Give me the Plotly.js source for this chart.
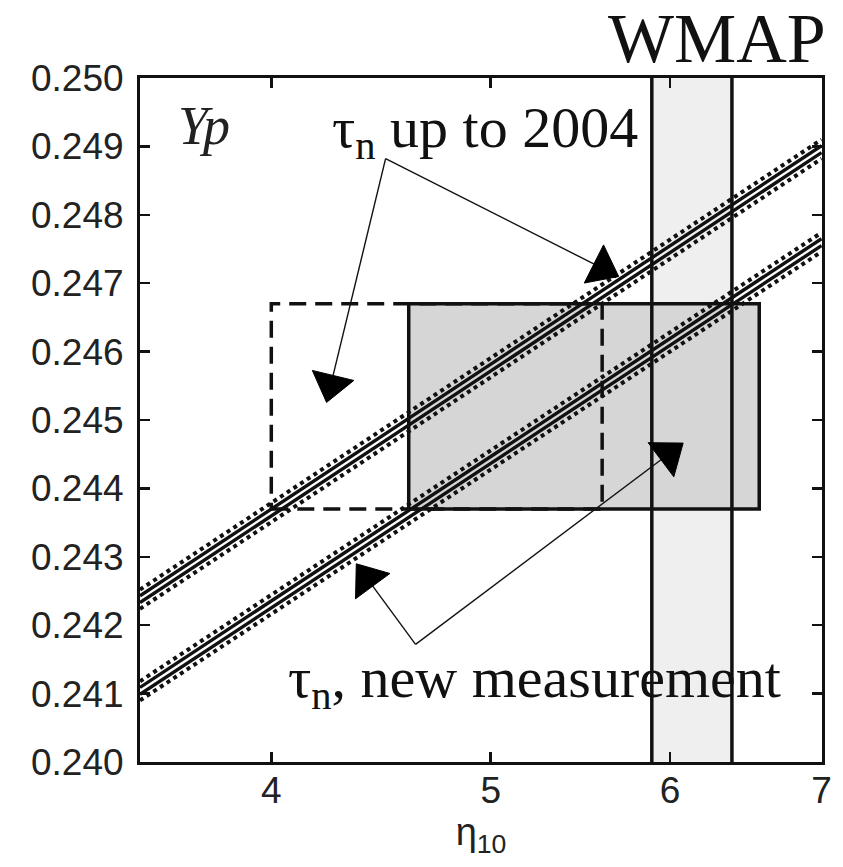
<!DOCTYPE html>
<html>
<head>
<meta charset="utf-8">
<script src="https://cdn.plot.ly/plotly-3.0.1.min.js"></script>
<style>
html,body{margin:0;padding:0;background:#fff;}
#chart{width:843px;height:867px;}
</style>
</head>
<body>
<div id="chart"></div>
<script>
// ---- data ----
const etaEnds = [3.5, 7];                       // x extent of the Yp(eta) lines
// tau_n up to 2004 band (upper)
const upperDotHi   = [0.24252, 0.24910];
const upperSolidHi = [0.24243, 0.24901];
const upperSolidLo = [0.24233, 0.24891];
const upperDotLo   = [0.24224, 0.24882];
// tau_n new measurement band (lower)
const lowerDotHi   = [0.24118, 0.24774];
const lowerSolidHi = [0.24109, 0.24765];
const lowerSolidLo = [0.24099, 0.24755];
const lowerDotLo   = [0.24090, 0.24746];
// WMAP eta10 band
const wmapEta = [5.89, 6.39];
const ypFull  = [0.240, 0.250];
// observed Yp boxes
const boxYp     = [0.2437, 0.2467];
const oldBoxEta = [4.0, 5.6];
const newBoxEta = [4.6, 6.57];
// annotation arrows: [vertex, head]
const arrowEta = [[4.493, 5.60], [4.493, 4.25], [4.632, 4.41], [4.632, 5.99]];
const arrowYp  = [[0.24882, 0.24722], [0.24882, 0.24552], [0.24172, 0.24268], [0.24172, 0.24450]];
// tick labels
const xTicks = [4, 5, 6, 7];
const xTickText = ['4', '5', '6', '7'];

const traces = [];
// WMAP band fill
traces.push({x:[wmapEta[0], wmapEta[1], wmapEta[1], wmapEta[0]], y:[ypFull[0], ypFull[0], ypFull[1], ypFull[1]],
  mode:'lines', fill:'toself', fillcolor:'#efefef', line:{width:0}, hoverinfo:'skip'});
// new box fill
traces.push({x:[newBoxEta[0], newBoxEta[1], newBoxEta[1], newBoxEta[0], newBoxEta[0]], y:[boxYp[0], boxYp[0], boxYp[1], boxYp[1], boxYp[0]],
  mode:'lines', fill:'toself', fillcolor:'#d6d6d6', line:{width:0}, hoverinfo:'skip'});
// old (dashed) box
traces.push({x:[oldBoxEta[0], oldBoxEta[1], oldBoxEta[1], oldBoxEta[0], oldBoxEta[0]], y:[boxYp[0], boxYp[0], boxYp[1], boxYp[1], boxYp[0]],
  mode:'lines', line:{color:'#111', width:3.5, dash:'17px,9px'}, hoverinfo:'skip'});
// new box outline
traces.push({x:[newBoxEta[0], newBoxEta[1], newBoxEta[1], newBoxEta[0], newBoxEta[0]], y:[boxYp[0], boxYp[0], boxYp[1], boxYp[1], boxYp[0]],
  mode:'lines', line:{color:'#111', width:3.5}, hoverinfo:'skip'});
// WMAP lines
wmapEta.forEach(function(e){
  traces.push({x:[e, e], y:ypFull, mode:'lines', line:{color:'#111', width:3.5}, hoverinfo:'skip'});
});
// band lines
[[upperDotHi,'dot'],[upperSolidHi,'solid'],[upperSolidLo,'solid'],[upperDotLo,'dot'],
 [lowerDotHi,'dot'],[lowerSolidHi,'solid'],[lowerSolidLo,'solid'],[lowerDotLo,'dot']].forEach(function(p){
  traces.push({x:etaEnds, y:p[0], mode:'lines',
    line:{color:'#111', width:p[1]==='dot'?4:3.4, dash:p[1]}, hoverinfo:'skip'});
});
// arrows
for (let i = 0; i < arrowEta.length; i++) {
  traces.push({x:arrowEta[i], y:arrowYp[i], mode:'lines+markers',
    line:{color:'#111', width:1.4},
    marker:{symbol:'triangle-up', size:[0, 37], color:'#000', opacity:1, angleref:'previous', line:{color:'#000', width:1}},
    hoverinfo:'skip'});
}

const serif = 'Liberation Serif, Times New Roman, serif';
const sans = 'Liberation Sans, Arial, sans-serif';
const layout = {
  width:843, height:867,
  margin:{l:140, r:21, t:78, b:105},
  paper_bgcolor:'#fff', plot_bgcolor:'#fff',
  showlegend:false,
  xaxis:{type:'log', range:[Math.log10(3.5), Math.log10(7.003)],
    tickvals:xTicks, ticktext:xTickText,
    ticks:'inside', ticklen:10, tickwidth:2.5, tickcolor:'#111',
    showline:true, linewidth:3, linecolor:'#111', mirror:'ticks',
    showgrid:false, zeroline:false, ticklabelstandoff:-6,
    tickfont:{family:sans, size:37, color:'#222'},
    title:{text:'η<sub>10</sub>', font:{family:sans, size:38, color:'#222'}, standoff:8}},
  yaxis:{range:[0.240, 0.250], dtick:0.001, tickformat:'.3f',
    ticks:'inside', ticklen:10, tickwidth:2.5, tickcolor:'#111',
    showline:true, linewidth:3, linecolor:'#111', mirror:'ticks',
    showgrid:false, zeroline:false, ticklabelstandoff:6,
    tickfont:{family:sans, size:37, color:'#222'}},
  annotations:[
    {xref:'paper', yref:'paper', x:0.094, y:0.930, xanchor:'center', yanchor:'middle', text:'<i>Yp</i>', showarrow:false,
      font:{family:serif, size:54, color:'#222'}},
    {xref:'paper', yref:'paper', x:0.506, y:0.922, xanchor:'center', yanchor:'middle', text:'τ<sub>n</sub> up to 2004', showarrow:false,
      font:{family:serif, size:58, color:'#111'}},
    {xref:'paper', yref:'paper', x:0.578, y:0.118, xanchor:'center', yanchor:'middle', text:'τ<sub>n</sub>, new measurement', showarrow:false,
      font:{family:serif, size:58, color:'#111'}},
    {xref:'paper', yref:'paper', x:0.846, y:1.058, xanchor:'center', yanchor:'middle', text:'WMAP', showarrow:false,
      font:{family:serif, size:70, color:'#111'}}
  ]
};

Plotly.newPlot('chart', traces, layout, {displayModeBar:false, staticPlot:true});
</script>
</body>
</html>
